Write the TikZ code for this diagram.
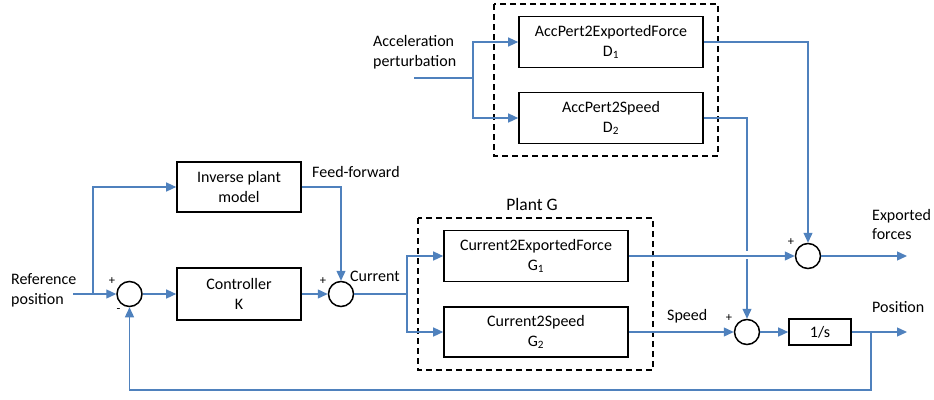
\documentclass[tikz,border=0pt]{standalone}
\usepackage{fontspec}
\setmainfont{Carlito}
\usetikzlibrary{arrows.meta}
\definecolor{lineblue}{RGB}{79,129,189}
\tikzset{
  blk/.style={draw=black, line width=1.6pt, fill=white, inner sep=0pt, align=center},
  sumc/.style={draw=black, line width=1.5pt, circle, minimum size=25pt, inner sep=0pt},
  sig/.style={draw=lineblue, line width=1.3pt},
  arr/.style={sig, -{Triangle[length=10pt,width=9pt]}},
  grp/.style={draw=black, line width=1.5pt, dash pattern=on 6pt off 4pt},
  lbl/.style={inner sep=0pt, align=left},
  sgn/.style={inner sep=0pt, font=\fontsize{12.5}{14}\selectfont},
}
\begin{document}
\begin{tikzpicture}[x=1pt, y=-1pt, font=\fontsize{16}{19.5}\selectfont]
\useasboundingbox (0,0) rectangle (934,399);
% groups
\draw[grp] (418,218) rectangle (653,370);
\draw[grp] (494,4) rectangle (718,156);
% blocks
\node[blk, minimum width=124pt, minimum height=50pt] (inv) at (239,187) {Inverse plant\\model};
\node[blk, minimum width=124pt, minimum height=52pt] (ctrl) at (239,294) {Controller\\K};
\node[blk, minimum width=184pt, minimum height=51pt] (g1) at (536,256) {Current2ExportedForce\\G\textsubscript{1}};
\node[blk, minimum width=184pt, minimum height=50pt] (g2) at (536,332) {Current2Speed\\G\textsubscript{2}};
\node[blk, minimum width=184pt, minimum height=51pt] (d1) at (611,42) {AccPert2ExportedForce\\D\textsubscript{1}};
\node[blk, minimum width=184pt, minimum height=51pt] (d2) at (611,118) {AccPert2Speed\\D\textsubscript{2}};
\node[blk, minimum width=62pt, minimum height=26pt] (integ) at (820,332) {1/s};
% summing junctions
\node[sumc] (s1) at (129.5,294) {};
\node[sumc] (s2) at (341,294) {};
\node[sumc] (s3) at (808,256) {};
\node[sumc] (s4) at (747,332) {};
% coordinates
\coordinate (refin) at (73,294);
\coordinate (refbr) at (93,294);
\coordinate (curbr) at (407,294);
\coordinate (accin) at (414,78);
\coordinate (accbr) at (473,78);
\coordinate (expout) at (907,256);
\coordinate (posout) at (907,332);
\coordinate (fbbr) at (871,332);
\coordinate (fbcorner) at (871,390);
% connectors
\draw[arr] (refin) -- (s1.west);
\draw[arr] (refbr) |- (inv.west);
\draw[arr] (s1.east) -- (ctrl.west);
\draw[arr] (ctrl.east) -- (s2.west);
\draw[arr] (inv.east) -| (s2.north);
\draw[sig] (s2.east) -- (curbr);
\draw[arr] (curbr) |- (g1.west);
\draw[arr] (curbr) |- (g2.west);
\draw[sig] (accin) -- (accbr);
\draw[arr] (accbr) |- (d1.west);
\draw[arr] (accbr) |- (d2.west);
\draw[arr] (d1.east) -| (s3.north);
\draw[arr] (d2.east) -| (s4.north);
% gap in the vertical line where it crosses the G1 output
\fill[white] (744.5,250.5) rectangle (749.5,258.5);
\draw[arr] (g1.east) -- (s3.west);
\draw[arr] (g2.east) -- (s4.west);
\draw[arr] (s3.east) -- (expout);
\draw[arr] (s4.east) -- (integ.west);
\draw[arr] (integ.east) -- (posout);
\draw[arr] (fbbr) -- (fbcorner) -| (s1.south);
% labels
\node[lbl, anchor=west] (lref) at (11,290.5) {Reference\\position};
\node[sgn] (p1) at (112,281) {+};
\node[sgn] (m1) at (118.5,311) {-};
\node[lbl, anchor=west] (lff) at (312,172) {Feed-forward};
\node[sgn] (p2) at (323,281) {+};
\node[lbl, anchor=west] (lcur) at (350,276) {Current};
\node[lbl, font=\fontsize{17.5}{21}\selectfont] (lplant) at (532,204) {Plant G};
\node[lbl, anchor=west] (lspd) at (667,316) {Speed};
\node[sgn] (p4) at (729,318) {+};
\node[sgn] (p3) at (791,242) {+};
\node[lbl, anchor=west] (lexp) at (872,224.5) {Exported\\forces};
\node[lbl, anchor=west] (lpos) at (872,307) {Position};
\node[lbl, anchor=west] (lacc) at (373,52) {Acceleration\\perturbation};
\end{tikzpicture}
\end{document}
